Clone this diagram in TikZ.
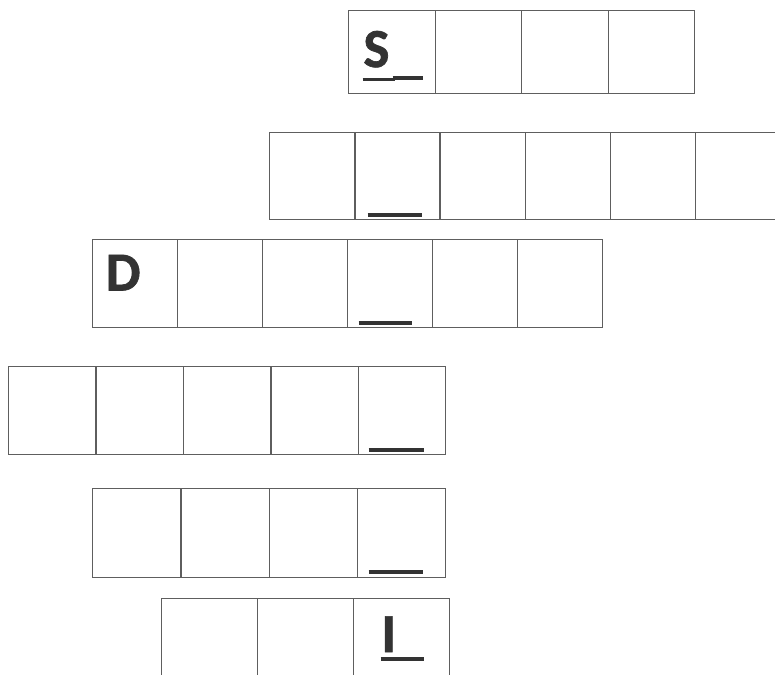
\documentclass[tikz,border=0pt]{standalone}
\usepackage{fontspec}
\setmainfont{Carlito}
\newfontfamily\letterfont{Carlito}[BoldFeatures={FakeBold=1.2}]
\usetikzlibrary{calc}
\definecolor{ink}{HTML}{333333}
\definecolor{rule}{HTML}{5E5E5E}

\begin{document}
\begin{tikzpicture}[
  x=1pt, y=-1pt,
  cell/.style={draw=rule, line width=1.4pt, inner sep=0pt, anchor=north west},
  letter/.style={text=ink, inner sep=0pt, font=\letterfont\fontsize{55}{55}\selectfont\bfseries},
  blank/.style={draw=ink, line width=4pt},
  under/.style={draw=ink, line width=2.4pt}
]
\useasboundingbox (0,0) rectangle (775,674);
\clip (0,0) rectangle (775,674);

% ---------------------------------------------------------------------------
% rows of cells: row / left / top / cell width / cell height / cells
% ---------------------------------------------------------------------------
\foreach \r/\x/\y/\w/\h/\n in {1/348/10/86.5/83/4, 2/269/132/85.2/87/6,
    3/92/239/85/88/6, 4/8/366/87.4/88/5, 5/92/488/88.25/89/4, 6/161/598/96/88/3}{
  \foreach \i in {1,...,\n}
    \node[cell, minimum width=\w pt, minimum height=\h pt] (r\r-\i) at ({\x+(\i-1)*\w},\y) {};
}

% ---------------------------------------------------------------------------
% given letters
% ---------------------------------------------------------------------------
\node[letter] (s) at ($(r1-1.center)+(-15.5,-3)$) {S};
\node[letter] (d) at ($(r3-1.center)+(-12,-11)$) {D};
\node[letter] (l) at ($(r6-3.center)+(-13,-8.5)$) {I};

% ---------------------------------------------------------------------------
% blanks
% ---------------------------------------------------------------------------
\draw[under] ($(r1-1.south)+(-29.25,-15)$) -- ($(r1-1.south)+(3,-15)$);
\draw[blank] ($(r1-1.south)+(0.75,-16)$) -- ($(r1-1.south)+(30.75,-16)$);
\draw[blank] ($(r2-2.south)+(-29.8,-5)$) -- ($(r2-2.south)+(24.2,-5)$);
\draw[blank] ($(r3-4.south)+(-31.5,-5)$) -- ($(r3-4.south)+(21.5,-5)$);
\draw[blank] ($(r4-5.south)+(-33.3,-5)$) -- ($(r4-5.south)+(21.7,-5)$);
\draw[blank] ($(r5-4.south)+(-32.9,-6)$) -- ($(r5-4.south)+(21.1,-6)$);
\draw[blank] ($(r6-3.south)+(-21,-28)$) -- ($(r6-3.south)+(22,-28)$);

\end{tikzpicture}
\end{document}
